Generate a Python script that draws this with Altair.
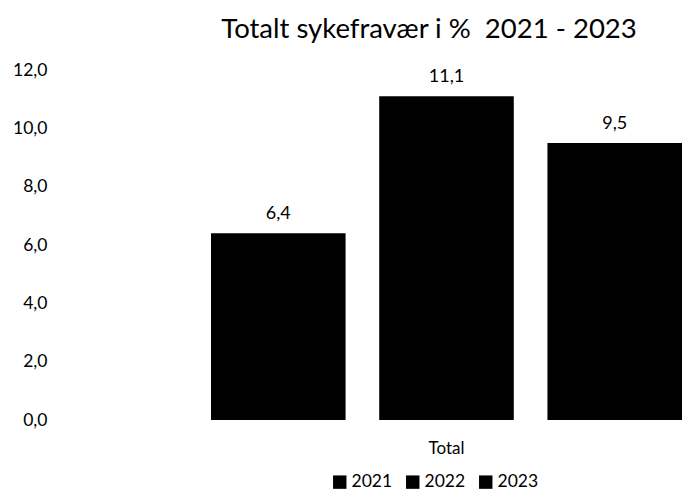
import altair as alt
import pandas as pd

categories = ["Total", "Total", "Total"]
years = ["2021", "2022", "2023"]
values = [6.4, 11.1, 9.5]
y_ticks = [0, 2, 4, 6, 8, 10, 12]

df = pd.DataFrame({"cat": categories, "year": years, "value": values})

FONT = "Lato"
FMT = "replace(format(datum.value, '.1f'), '.', ',')"

base = alt.Chart(df).encode(
    x=alt.X(
        "cat:N",
        title=None,
        scale=alt.Scale(paddingInner=0, paddingOuter=0.1603, align=1),
        axis=alt.Axis(labelAngle=0, ticks=False, domain=False, labelPadding=20,
                      labelFontSize=17, labelFont=FONT, labelColor="#000"),
    ),
    xOffset=alt.XOffset("year:N", scale=alt.Scale(paddingInner=0.2, paddingOuter=0)),
    y=alt.Y(
        "value:Q",
        title=None,
        scale=alt.Scale(domain=[0, 12], nice=False),
        axis=alt.Axis(values=y_ticks, labelExpr=FMT, ticks=False, domain=False, grid=False,
                      labelPadding=13, labelFontSize=17.5, labelFont=FONT, labelColor="#000"),
    ),
)

bars = base.mark_bar().encode(
    color=alt.Color(
        "year:N",
        scale=alt.Scale(range=["#000000", "#000000", "#000000"]),
        legend=alt.Legend(orient="none", legendX=271, legendY=403, direction="horizontal",
                          title=None, symbolType="square", symbolSize=180, symbolStrokeWidth=0,
                          labelFontSize=17.5, labelFont=FONT, labelColor="#000",
                          columnPadding=11, labelOffset=3),
    )
)

labels = base.mark_text(dy=-14, baseline="alphabetic", fontSize=18, font=FONT, color="#000").transform_calculate(
    lbl="replace(format(datum.value, '.1f'), '.', ',')"
).encode(text="lbl:N")

chart = alt.layer(bars, labels).properties(
    width=622,
    height=350,
    padding={"left": 52, "top": 62, "right": 0, "bottom": 71},
    autosize=alt.AutoSizeParams(type="none"),
    title=alt.Title("Totalt sykefravær i %\u00a0 2021 - 2023", fontSize=27.5, font=FONT,
                    fontWeight="normal", color="#000", dx=58, offset=18, anchor="middle"),
).configure_view(stroke=None)

chart.save("out.html", embed_options={"renderer": "svg", "actions": False})
